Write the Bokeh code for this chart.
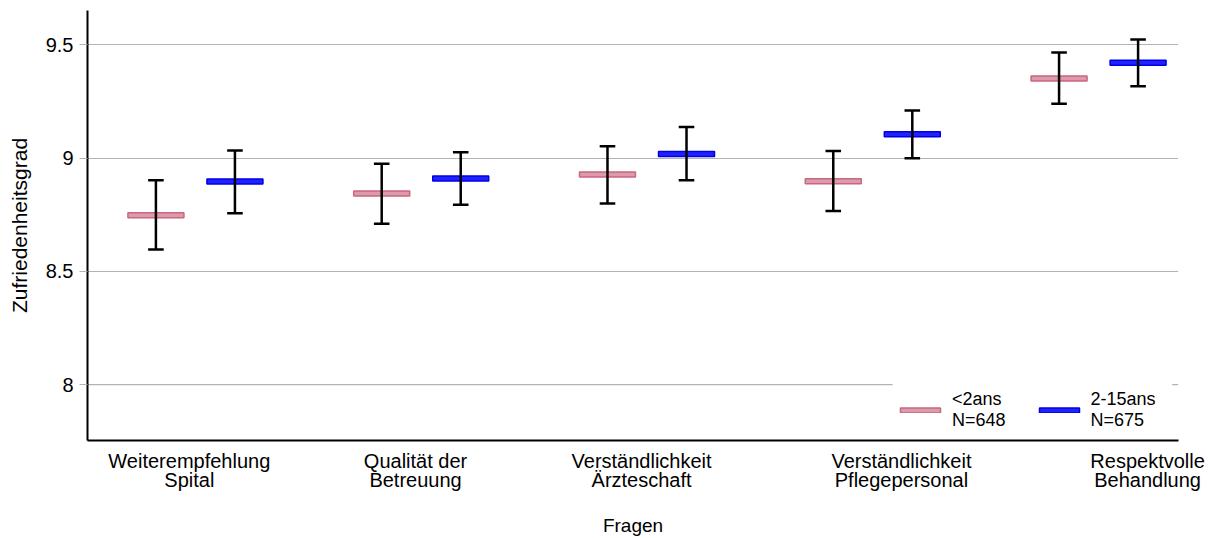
from bokeh.plotting import figure
from bokeh.models import (ColumnDataSource, Range1d, FixedTicker, Legend, LegendItem)
from bokeh.embed import file_html
from bokeh.resources import INLINE

# Questions (x categories) and tick labels
questions = ["Weiterempfehlung\nSpital", "Qualität der\nBetreuung",
             "Verständlichkeit\nÄrzteschaft", "Verständlichkeit\nPflegepersonal",
             "Respektvolle\nBehandlung"]

# Group 1: <2ans (N=648)
young_mean = [8.748, 8.844, 8.928, 8.898, 9.352]
young_low = [8.596, 8.710, 8.800, 8.766, 9.240]
young_high = [8.902, 8.975, 9.053, 9.031, 9.466]

# Group 2: 2-15ans (N=675)
older_mean = [8.897, 8.910, 9.018, 9.105, 9.421]
older_low = [8.757, 8.794, 8.902, 8.999, 9.318]
older_high = [9.034, 9.026, 9.137, 9.210, 9.524]

group_labels = ["<2ans\nN=648", "2-15ans\nN=675"]
y_ticks = [8, 8.5, 9, 9.5]

# layout / styling
X_START, X_END = 0.522, 5.354
dodge = 0.175
bar_w = 0.248
cap_w = 0.069
label_shift = [-0.027, -0.025, -0.024, 0.127, 0.217]
legend_gap = (4.088, 5.326)   # x-span kept clear of the lowest grid line
FONT = "Liberation Sans"
GRID_COLOR = "#b3b3b3"

p = figure(width=1218, height=538, output_backend="svg", toolbar_location=None,
           x_range=Range1d(X_START, X_END), y_range=Range1d(7.753, 9.652),
           min_border_left=87, min_border_right=40, min_border_top=10,
           min_border_bottom=98)
p.outline_line_color = None
p.background_fill_color = "white"
p.border_fill_color = "white"

idx = list(range(1, len(questions) + 1))


def draw_group(means, lows, highs, offset, fill, line):
    xs = [i + offset for i in idx]
    src = ColumnDataSource(dict(x=xs, m=means, lo=lows, hi=highs,
                                cl=[x - cap_w / 2 for x in xs],
                                cr=[x + cap_w / 2 for x in xs]))
    r = p.rect(x="x", y="m", width=bar_w, height=5, height_units="screen",
               source=src, fill_color=fill, line_color=line, line_width=1.5)
    p.segment(x0="x", y0="lo", x1="x", y1="hi", source=src,
              line_color="black", line_width=2.5)
    p.segment(x0="cl", y0="hi", x1="cr", y1="hi", source=src,
              line_color="black", line_width=2.5)
    p.segment(x0="cl", y0="lo", x1="cr", y1="lo", source=src,
              line_color="black", line_width=2.5)
    return r


# lowest grid line, interrupted where the legend sits
p.segment(x0=[X_START, legend_gap[1]], x1=[legend_gap[0], X_END],
          y0=[y_ticks[0]] * 2, y1=[y_ticks[0]] * 2,
          line_color=GRID_COLOR, line_width=1.2, level="underlay")

r1 = draw_group(young_mean, young_low, young_high, -dodge, "#dd9aab", "#c8677f")
r2 = draw_group(older_mean, older_low, older_high, dodge, "#2222ff", "#0000e6")

# y axis
p.yaxis.ticker = FixedTicker(ticks=y_ticks)
p.yaxis.major_label_overrides = {8: "8", 8.5: "8.5", 9: "9", 9.5: "9.5"}
p.yaxis.axis_label = "Zufriedenheitsgrad"
p.yaxis.axis_line_width = 2
p.yaxis.axis_line_color = "black"
p.yaxis.major_tick_line_color = GRID_COLOR
p.yaxis.major_tick_out = 8
p.yaxis.major_tick_in = 0
p.yaxis.minor_tick_line_color = None
p.yaxis.major_label_text_font = FONT
p.yaxis.major_label_text_font_size = "20px"
p.yaxis.major_label_text_color = "black"
p.yaxis.major_label_standoff = 6
p.yaxis.axis_label_text_font = FONT
p.yaxis.axis_label_text_font_size = "21px"
p.yaxis.axis_label_text_font_style = "normal"
p.yaxis.axis_label_text_color = "black"
p.yaxis.axis_label_standoff = 12

# x axis
tick_pos = [i + s for i, s in zip(idx, label_shift)]
p.xaxis.ticker = FixedTicker(ticks=tick_pos)
p.xaxis.major_label_overrides = {t: q for t, q in zip(tick_pos, questions)}
p.xaxis.axis_label = "Fragen"
p.xaxis.axis_line_width = 2
p.xaxis.axis_line_color = "black"
p.xaxis.major_tick_line_color = None
p.xaxis.minor_tick_line_color = None
p.xaxis.major_label_text_font = FONT
p.xaxis.major_label_text_font_size = "20px"
p.xaxis.major_label_text_line_height = 0.88
p.xaxis.major_label_text_color = "black"
p.xaxis.major_label_standoff = 3
p.xaxis.axis_label_text_font = FONT
p.xaxis.axis_label_text_font_size = "19px"
p.xaxis.axis_label_text_font_style = "normal"
p.xaxis.axis_label_text_color = "black"
p.xaxis.axis_label_standoff = 21

# horizontal grid for the upper ticks
p.xgrid.grid_line_color = None
p.ygrid.ticker = FixedTicker(ticks=y_ticks[1:])
p.ygrid.grid_line_color = GRID_COLOR
p.ygrid.grid_line_width = 1.2

legend = Legend(items=[LegendItem(label=group_labels[0], renderers=[r1]),
                       LegendItem(label=group_labels[1], renderers=[r2])],
                orientation="horizontal", location=(808, 9),
                glyph_width=50, glyph_height=6, label_standoff=7,
                spacing=28, padding=8, margin=0,
                border_line_color=None, background_fill_color="white",
                background_fill_alpha=1.0,
                label_text_font=FONT, label_text_font_size="18px",
                label_text_line_height=0.88,
                label_text_color="black")
p.add_layout(legend, "center")

open("out.html", "w").write(file_html(p, INLINE))
